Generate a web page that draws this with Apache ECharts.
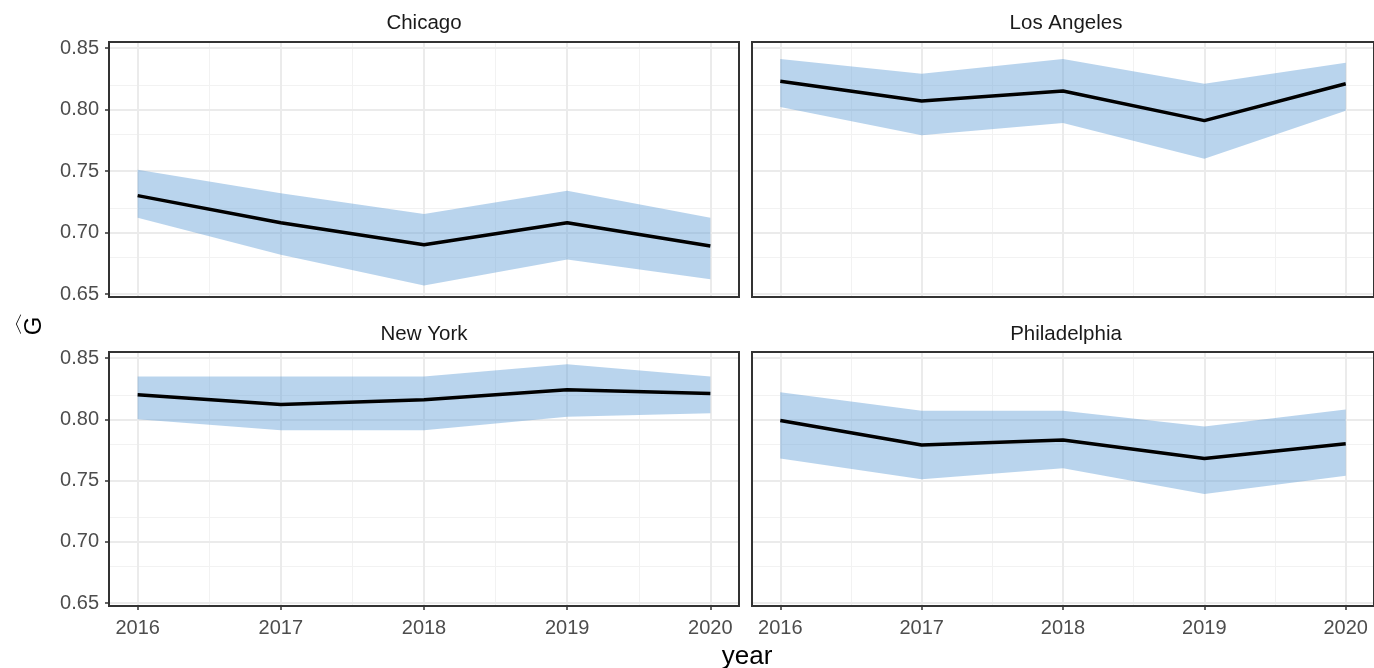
<!DOCTYPE html>
<html>
<head>
<meta charset="utf-8">
<script src="https://cdn.jsdelivr.net/npm/echarts@6/dist/echarts.min.js"></script>
<style>html,body{margin:0;padding:0;background:#fff}#c{width:1374px;height:668px}</style>
</head>
<body>
<div id="c"></div>
<script>
const years = [2016, 2017, 2018, 2019, 2020];
const panelTitles = ['Chicago', 'Los Angeles', 'New York', 'Philadelphia'];
const yTicks = [0.65, 0.70, 0.75, 0.80, 0.85];
const yMinor = [0.675, 0.725, 0.775, 0.825];
const xMinor = [2016.5, 2017.5, 2018.5, 2019.5];

const chicagoMean  = [0.730, 0.708, 0.690, 0.708, 0.689];
const chicagoLower = [0.712, 0.682, 0.657, 0.678, 0.662];
const chicagoUpper = [0.751, 0.732, 0.715, 0.734, 0.712];
const laMean  = [0.823, 0.807, 0.815, 0.791, 0.821];
const laLower = [0.802, 0.779, 0.789, 0.760, 0.799];
const laUpper = [0.841, 0.829, 0.841, 0.821, 0.838];
const nyMean  = [0.820, 0.812, 0.816, 0.824, 0.821];
const nyLower = [0.800, 0.791, 0.791, 0.802, 0.805];
const nyUpper = [0.835, 0.835, 0.835, 0.845, 0.835];
const phMean  = [0.799, 0.779, 0.783, 0.768, 0.780];
const phLower = [0.768, 0.751, 0.760, 0.739, 0.754];
const phUpper = [0.822, 0.807, 0.807, 0.794, 0.808];

const panels = [
  {mean: chicagoMean, lower: chicagoLower, upper: chicagoUpper},
  {mean: laMean, lower: laLower, upper: laUpper},
  {mean: nyMean, lower: nyLower, upper: nyUpper},
  {mean: phMean, lower: phLower, upper: phUpper}
];

const grids = [
  {left: 109, width: 630, top: 42, height: 255},
  {left: 752, width: 631, top: 42, height: 255},
  {left: 109, width: 630, top: 352, height: 254},
  {left: 752, width: 631, top: 352, height: 254}
];

const textColor = '#4d4d4d';
const font = 'Liberation Sans, Arial, sans-serif';

const xAxes = [], yAxes = [], series = [];
grids.forEach((g, i) => {
  g.show = true; g.borderColor = '#333333'; g.borderWidth = 2; g.backgroundColor = 'transparent'; g.z = 20;
  const bottomRow = i >= 2, leftCol = i % 2 === 0;
  xAxes.push({
    type: 'value', gridIndex: i, min: 2015.8, max: 2020.2,
    axisLine: {show: false}, splitLine: {show: false},
    axisTick: {show: bottomRow, length: 4, lineStyle: {color: '#333', width: 1.5}, customValues: years},
    axisLabel: {show: bottomRow, customValues: years, color: textColor, fontSize: 20, fontFamily: font, margin: 12, formatter: v => String(v)}
  });
  yAxes.push({
    type: 'value', gridIndex: i, min: 0.6476, max: 0.8549,
    axisLine: {show: false}, splitLine: {show: false},
    axisTick: {show: leftCol, length: 4, lineStyle: {color: '#333', width: 1.5}, customValues: yTicks},
    axisLabel: {show: leftCol, customValues: yTicks, color: textColor, fontSize: 20, fontFamily: font, margin: 10, formatter: v => v.toFixed(2)}
  });
  const p = panels[i];
  const gridLines = [];
  yMinor.forEach(v => gridLines.push({yAxis: v, lineStyle: {color: '#f2f2f2', width: 1, type: 'solid'}}));
  xMinor.forEach(v => gridLines.push({xAxis: v, lineStyle: {color: '#f2f2f2', width: 1, type: 'solid'}}));
  yTicks.forEach(v => gridLines.push({yAxis: v, lineStyle: {color: '#ebebeb', width: 2, type: 'solid'}}));
  years.forEach(v => gridLines.push({xAxis: v, lineStyle: {color: '#ebebeb', width: 2, type: 'solid'}}));
  series.push({
    type: 'line', xAxisIndex: i, yAxisIndex: i, symbol: 'none', silent: true,
    data: [], z: 0,
    markLine: {silent: true, symbol: ['none', 'none'], label: {show: false}, animation: false, z: 0, data: gridLines}
  });
  series.push({
    type: 'custom', xAxisIndex: i, yAxisIndex: i, silent: true, z: 5,
    data: [[years[0], p.lower[0]]],
    renderItem: (params, api) => {
      const pts = [];
      years.forEach((y, k) => pts.push(api.coord([y, p.upper[k]])));
      for (let k = years.length - 1; k >= 0; k--) pts.push(api.coord([years[k], p.lower[k]]));
      return {type: 'polygon', shape: {points: pts}, style: {fill: 'rgba(100,160,215,0.45)'}};
    }
  });
  series.push({
    type: 'line', xAxisIndex: i, yAxisIndex: i, symbol: 'none', silent: true,
    data: years.map((y, k) => [y, p.mean[k]]),
    lineStyle: {color: '#000', width: 3.5}, z: 10
  });
});

const titlePos = [[424, 23], [1066, 23], [424, 334], [1066, 334]];
const graphics = panelTitles.map((t, i) => ({
  type: 'text', x: titlePos[i][0], y: titlePos[i][1],
  style: {text: t, fill: '#1a1a1a', font: '20.5px ' + font, textAlign: 'center', textVerticalAlign: 'middle'}
}));
graphics.push({type: 'text', x: 747, y: 657, style: {text: 'year', fill: '#000', font: '26px ' + font, textAlign: 'center', textVerticalAlign: 'middle'}});
graphics.push({type: 'text', x: 13, y: 326, style: {text: '\u3008', fill: '#000', font: '22px ' + font, textAlign: 'center', textVerticalAlign: 'middle'}});
graphics.push({type: 'text', x: 34, y: 326, rotation: Math.PI / 2, style: {text: 'G', fill: '#000', font: '24px ' + font, textAlign: 'center', textVerticalAlign: 'middle'}});

const chart = echarts.init(document.getElementById('c'));
chart.setOption({
  animation: false,
  backgroundColor: '#fff',
  grid: grids, xAxis: xAxes, yAxis: yAxes, series: series, graphic: graphics
});
</script>
</body>
</html>
